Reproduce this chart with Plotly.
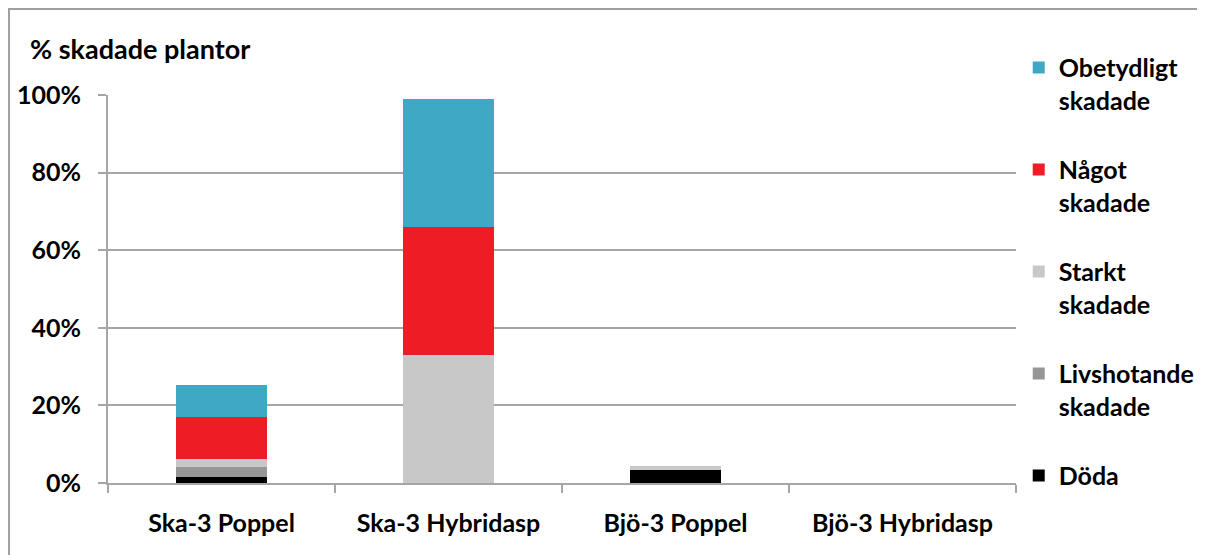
import plotly.graph_objects as go

# DATA ###########################################################################################

categories = ["Ska-3 Poppel", "Ska-3 Hybridasp", "Bjö-3 Poppel", "Bjö-3 Hybridasp"]

doda = [1.5, 0, 3.4, 0]
livshotande = [2.6, 0, 0, 0]
starkt = [2.0, 33.1, 1.0, 0]
nagot = [11.0, 32.8, 0, 0]
obetydligt = [8.2, 33.0, 0, 0]

series_names = ["Döda", "Livshotande<br>skadade", "Starkt<br>skadade", "Något<br>skadade", "Obetydligt<br>skadade"]
series_values = [doda, livshotande, starkt, nagot, obetydligt]
series_colors = ["#000000", "#969696", "#c8c8c8", "#ee1c25", "#3fa9c5"]

y_ticks = [0, 20, 40, 60, 80, 100]
y_tick_labels = ["0%", "20%", "40%", "60%", "80%", "100%"]

# FIGURE #########################################################################################

FONT = "Lato, 'Open Sans', sans-serif"
GRID = "#a6a6a6"
SIZE = 25

figure = go.Figure()
for i, (name, values, color) in enumerate(zip(series_names, series_values, series_colors)):
    # legendrank puts the top of the stack first in the legend
    figure.add_trace(go.Bar(x=categories, y=values, name=name, marker_color=color,
                            marker_line_width=0, legendgroup=str(i),
                            legendrank=len(series_names) - i))

# the page adds an 8px body margin, so the figure is 8px smaller than the window
figure.update_layout(
    barmode="stack",
    bargap=0.6,
    width=1197, height=547,
    margin=dict(l=100, r=189, t=87, b=72, autoexpand=False),
    plot_bgcolor="white", paper_bgcolor="white",
    font=dict(family=FONT, size=SIZE, color="black", weight="bold"),
    legend=dict(x=1.003, y=0.933, xanchor="left", yanchor="top", yref="container",
                tracegroupgap=34, valign="top", maxheight=1,
                font=dict(size=SIZE, weight="bold"), itemwidth=30),
    showlegend=True,
    annotations=[dict(text="% skadade plantor", xref="paper", yref="paper",
                      x=-0.088, y=1.121, xanchor="left", yanchor="middle", showarrow=False,
                      font=dict(size=27, weight="bold"))],
    shapes=[dict(type="rect", xref="paper", yref="paper",
                 x0=-0.109, x1=1.3, y0=-0.5, y1=1.2216,
                 line=dict(color="#a0a0a0", width=2), layer="below")],
)

figure.update_yaxes(range=[0, 100], tickvals=y_ticks, ticktext=y_tick_labels,
                    showgrid=True, gridcolor=GRID, gridwidth=2,
                    showline=True, linecolor=GRID, linewidth=2,
                    ticks="outside", ticklen=8, tickcolor=GRID, tickwidth=2,
                    ticklabelstandoff=12, zeroline=False)
figure.update_xaxes(showline=True, linecolor=GRID, linewidth=2,
                    ticks="outside", tickson="boundaries", ticklen=8,
                    tickcolor=GRID, tickwidth=2, ticklabelstandoff=17)

figure.write_html("out.html")
